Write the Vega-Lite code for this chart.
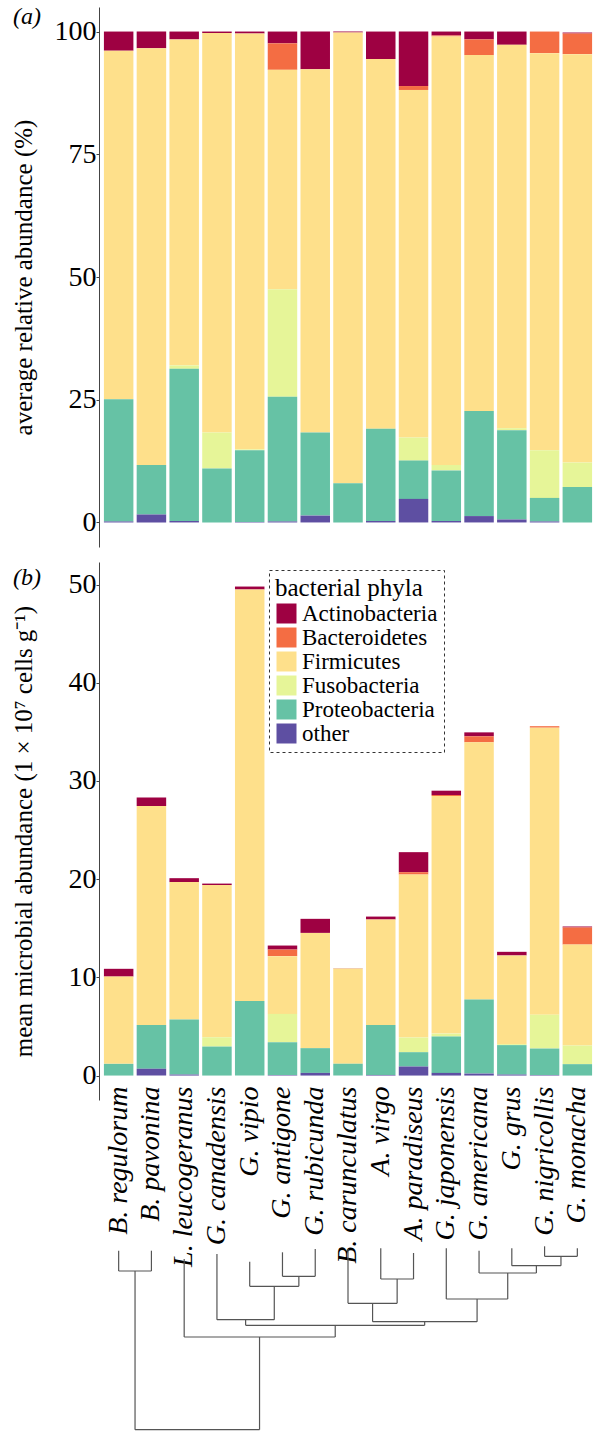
{
  "$schema": "https://vega.github.io/schema/vega-lite/v6.json",
  "padding": {"left": 11, "top": 5, "right": 0, "bottom": 0},
  "config": {
    "view": {"stroke": null},
    "font": "Liberation Serif",
    "style": {"guide-label": {"font": "Liberation Serif", "fill": "#000"}, "guide-title": {"font": "Liberation Serif", "fill": "#000"}},
    "axis": {"grid": false, "domainColor": "#444", "tickColor": "#444", "tickSize": 3, "labelPadding": 0, "labelFontSize": 28, "labelColor": "#000", "titleFontSize": 25, "titleFontWeight": "normal", "titleColor": "#000", "labelFont": "Liberation Serif", "titleFont": "Liberation Serif"},
    "axisY": {"minExtent": 48, "maxExtent": 48, "titlePadding": 15},
    "legend": {"strokeDash": [3, 3], "strokeWidth": 1, "labelFont": "Liberation Serif", "titleFont": "Liberation Serif"},
    "title": {"font": "Liberation Serif", "fontSize": 24, "fontStyle": "italic", "fontWeight": "normal", "color": "#000"}
  },
  "datasets": {
    "bars": [
      {"species": "B. regulorum", "phylum": "Actinobacteria", "pct": 3.9, "abund": 0.79},
      {"species": "B. regulorum", "phylum": "Firmicutes", "pct": 71.0, "abund": 8.89},
      {"species": "B. regulorum", "phylum": "Proteobacteria", "pct": 24.9, "abund": 1.19},
      {"species": "B. regulorum", "phylum": "other", "pct": 0.2, "abund": 0},
      {"species": "B. pavonina", "phylum": "Actinobacteria", "pct": 3.4, "abund": 0.85},
      {"species": "B. pavonina", "phylum": "Firmicutes", "pct": 84.9, "abund": 22.3},
      {"species": "B. pavonina", "phylum": "Proteobacteria", "pct": 10.1, "abund": 4.48},
      {"species": "B. pavonina", "phylum": "other", "pct": 1.6, "abund": 0.68},
      {"species": "L. leucogeranus", "phylum": "Actinobacteria", "pct": 1.6, "abund": 0.4},
      {"species": "L. leucogeranus", "phylum": "Firmicutes", "pct": 66.4, "abund": 14.0},
      {"species": "L. leucogeranus", "phylum": "Fusobacteria", "pct": 0.7, "abund": 0},
      {"species": "L. leucogeranus", "phylum": "Proteobacteria", "pct": 31.0, "abund": 5.6},
      {"species": "L. leucogeranus", "phylum": "other", "pct": 0.3, "abund": 0.1},
      {"species": "G. canadensis", "phylum": "Actinobacteria", "pct": 0.3, "abund": 0.15},
      {"species": "G. canadensis", "phylum": "Firmicutes", "pct": 81.4, "abund": 15.5},
      {"species": "G. canadensis", "phylum": "Fusobacteria", "pct": 7.3, "abund": 0.95},
      {"species": "G. canadensis", "phylum": "Proteobacteria", "pct": 11.0, "abund": 2.95},
      {"species": "G. vipio", "phylum": "Actinobacteria", "pct": 0.4, "abund": 0.3},
      {"species": "G. vipio", "phylum": "Firmicutes", "pct": 84.7, "abund": 41.9},
      {"species": "G. vipio", "phylum": "Fusobacteria", "pct": 0.2, "abund": 0},
      {"species": "G. vipio", "phylum": "Proteobacteria", "pct": 14.6, "abund": 7.6},
      {"species": "G. vipio", "phylum": "other", "pct": 0.1, "abund": 0},
      {"species": "G. antigone", "phylum": "Actinobacteria", "pct": 2.4, "abund": 0.41},
      {"species": "G. antigone", "phylum": "Bacteroidetes", "pct": 5.4, "abund": 0.67},
      {"species": "G. antigone", "phylum": "Firmicutes", "pct": 44.7, "abund": 5.88},
      {"species": "G. antigone", "phylum": "Fusobacteria", "pct": 21.9, "abund": 2.88},
      {"species": "G. antigone", "phylum": "Proteobacteria", "pct": 25.4, "abund": 3.35},
      {"species": "G. antigone", "phylum": "other", "pct": 0.2, "abund": 0.05},
      {"species": "G. rubicunda", "phylum": "Actinobacteria", "pct": 7.7, "abund": 1.43},
      {"species": "G. rubicunda", "phylum": "Firmicutes", "pct": 74.0, "abund": 11.74},
      {"species": "G. rubicunda", "phylum": "Proteobacteria", "pct": 16.9, "abund": 2.52},
      {"species": "G. rubicunda", "phylum": "other", "pct": 1.4, "abund": 0.27},
      {"species": "B. carunculatus", "phylum": "Actinobacteria", "pct": 0.2, "abund": 0.05},
      {"species": "B. carunculatus", "phylum": "Firmicutes", "pct": 91.8, "abund": 9.7},
      {"species": "B. carunculatus", "phylum": "Proteobacteria", "pct": 8.0, "abund": 1.19},
      {"species": "A. virgo", "phylum": "Actinobacteria", "pct": 5.6, "abund": 0.3},
      {"species": "A. virgo", "phylum": "Firmicutes", "pct": 75.3, "abund": 10.73},
      {"species": "A. virgo", "phylum": "Proteobacteria", "pct": 18.8, "abund": 5.1},
      {"species": "A. virgo", "phylum": "other", "pct": 0.3, "abund": 0.06},
      {"species": "A. paradiseus", "phylum": "Actinobacteria", "pct": 11.1, "abund": 2.04},
      {"species": "A. paradiseus", "phylum": "Bacteroidetes", "pct": 0.8, "abund": 0.24},
      {"species": "A. paradiseus", "phylum": "Firmicutes", "pct": 70.8, "abund": 16.6},
      {"species": "A. paradiseus", "phylum": "Fusobacteria", "pct": 4.7, "abund": 1.49},
      {"species": "A. paradiseus", "phylum": "Proteobacteria", "pct": 7.8, "abund": 1.46},
      {"species": "A. paradiseus", "phylum": "other", "pct": 4.8, "abund": 0.92},
      {"species": "G. japonensis", "phylum": "Actinobacteria", "pct": 0.8, "abund": 0.44},
      {"species": "G. japonensis", "phylum": "Bacteroidetes", "pct": 0.2, "abund": 0.1},
      {"species": "G. japonensis", "phylum": "Firmicutes", "pct": 87.3, "abund": 24.2},
      {"species": "G. japonensis", "phylum": "Fusobacteria", "pct": 1.1, "abund": 0.3},
      {"species": "G. japonensis", "phylum": "Proteobacteria", "pct": 10.3, "abund": 3.7},
      {"species": "G. japonensis", "phylum": "other", "pct": 0.3, "abund": 0.27},
      {"species": "G. americana", "phylum": "Actinobacteria", "pct": 1.6, "abund": 0.4},
      {"species": "G. americana", "phylum": "Bacteroidetes", "pct": 3.2, "abund": 0.61},
      {"species": "G. americana", "phylum": "Firmicutes", "pct": 72.5, "abund": 26.2},
      {"species": "G. americana", "phylum": "Proteobacteria", "pct": 21.4, "abund": 7.54},
      {"species": "G. americana", "phylum": "other", "pct": 1.3, "abund": 0.2},
      {"species": "G. grus", "phylum": "Actinobacteria", "pct": 2.7, "abund": 0.37},
      {"species": "G. grus", "phylum": "Firmicutes", "pct": 78.1, "abund": 9.03},
      {"species": "G. grus", "phylum": "Fusobacteria", "pct": 0.4, "abund": 0.1},
      {"species": "G. grus", "phylum": "Proteobacteria", "pct": 18.2, "abund": 3.0},
      {"species": "G. grus", "phylum": "other", "pct": 0.6, "abund": 0.1},
      {"species": "G. nigricollis", "phylum": "Bacteroidetes", "pct": 4.4, "abund": 0.15},
      {"species": "G. nigricollis", "phylum": "Firmicutes", "pct": 80.9, "abund": 29.25},
      {"species": "G. nigricollis", "phylum": "Fusobacteria", "pct": 9.7, "abund": 3.43},
      {"species": "G. nigricollis", "phylum": "Proteobacteria", "pct": 4.8, "abund": 2.7},
      {"species": "G. nigricollis", "phylum": "other", "pct": 0.2, "abund": 0.05},
      {"species": "G. monacha", "phylum": "Actinobacteria", "pct": 0.2, "abund": 0.1},
      {"species": "G. monacha", "phylum": "Bacteroidetes", "pct": 4.2, "abund": 1.74},
      {"species": "G. monacha", "phylum": "Firmicutes", "pct": 83.2, "abund": 10.28},
      {"species": "G. monacha", "phylum": "Fusobacteria", "pct": 5.0, "abund": 1.9},
      {"species": "G. monacha", "phylum": "Proteobacteria", "pct": 7.2, "abund": 1.16}
    ],
    "dendro": [
      {"x": 1, "x2": 1, "h": 4.7, "h2": 25},
      {"x": 2, "x2": 2, "h": 4.7, "h2": 25},
      {"x": 1, "x2": 2, "h": 25, "h2": 25},
      {"x": 3, "x2": 3, "h": 13, "h2": 91},
      {"x": 4, "x2": 4, "h": 8, "h2": 73.7},
      {"x": 5, "x2": 5, "h": 15.7, "h2": 40.3},
      {"x": 6, "x2": 6, "h": 6.3, "h2": 30.3},
      {"x": 7, "x2": 7, "h": 3, "h2": 30.3},
      {"x": 6, "x2": 7, "h": 30.3, "h2": 30.3},
      {"x": 6.5, "x2": 6.5, "h": 30.3, "h2": 40.3},
      {"x": 5, "x2": 6.5, "h": 40.3, "h2": 40.3},
      {"x": 5.75, "x2": 5.75, "h": 40.3, "h2": 73.7},
      {"x": 4, "x2": 5.75, "h": 73.7, "h2": 73.7},
      {"x": 4.875, "x2": 4.875, "h": 73.7, "h2": 79.3},
      {"x": 8, "x2": 8, "h": 3, "h2": 57.3},
      {"x": 9, "x2": 9, "h": 2.3, "h2": 33},
      {"x": 10, "x2": 10, "h": 7, "h2": 33},
      {"x": 9, "x2": 10, "h": 33, "h2": 33},
      {"x": 9.5, "x2": 9.5, "h": 33, "h2": 57.3},
      {"x": 8, "x2": 9.5, "h": 57.3, "h2": 57.3},
      {"x": 8.75, "x2": 8.75, "h": 57.3, "h2": 75.7},
      {"x": 11, "x2": 11, "h": 2.3, "h2": 53},
      {"x": 12, "x2": 12, "h": 4.7, "h2": 27},
      {"x": 13, "x2": 13, "h": 2.3, "h2": 19.7},
      {"x": 14, "x2": 14, "h": 0.3, "h2": 10.3},
      {"x": 15, "x2": 15, "h": 2.3, "h2": 10.3},
      {"x": 14, "x2": 15, "h": 10.3, "h2": 10.3},
      {"x": 14.5, "x2": 14.5, "h": 10.3, "h2": 19.7},
      {"x": 13, "x2": 14.5, "h": 19.7, "h2": 19.7},
      {"x": 13.75, "x2": 13.75, "h": 19.7, "h2": 27},
      {"x": 12, "x2": 13.75, "h": 27, "h2": 27},
      {"x": 12.875, "x2": 12.875, "h": 27, "h2": 53},
      {"x": 11, "x2": 12.875, "h": 53, "h2": 53},
      {"x": 11.94, "x2": 11.94, "h": 53, "h2": 75.7},
      {"x": 8.75, "x2": 11.94, "h": 75.7, "h2": 75.7},
      {"x": 10.34, "x2": 10.34, "h": 75.7, "h2": 79.3},
      {"x": 4.875, "x2": 10.34, "h": 79.3, "h2": 79.3},
      {"x": 7.61, "x2": 7.61, "h": 79.3, "h2": 91},
      {"x": 3, "x2": 7.61, "h": 91, "h2": 91},
      {"x": 5.3, "x2": 5.3, "h": 91, "h2": 183.7},
      {"x": 1.5, "x2": 1.5, "h": 25, "h2": 183.7},
      {"x": 1.5, "x2": 5.3, "h": 183.7, "h2": 183.7}
    ]
  },
  "bounds": "flush",
  "spacing": 15,
  "resolve": {"scale": {"color": "independent"}, "legend": {"color": "independent"}},
  "vconcat": [
    {
      "width": 498,
      "height": 540,
      "title": {"text": "(a)", "anchor": "start", "frame": "bounds", "offset": -22, "dx": 2},
      "data": {"name": "bars"},
      "mark": {"type": "bar"},
      "encoding": {
        "x": {"field": "species", "type": "nominal", "sort": ["B. regulorum", "B. pavonina", "L. leucogeranus", "G. canadensis", "G. vipio", "G. antigone", "G. rubicunda", "B. carunculatus", "A. virgo", "A. paradiseus", "G. japonensis", "G. americana", "G. grus", "G. nigricollis", "G. monacha"], "scale": {"paddingInner": 0.1, "paddingOuter": 0.15}, "axis": null},
        "y": {"field": "pct", "type": "quantitative", "stack": "zero", "scale": {"domain": [-5, 105], "nice": false, "zero": false}, "axis": {"values": [0, 25, 50, 75, 100], "title": "average relative abundance (%)", "labelFont": "Liberation Serif", "labelFontSize": 28, "titleFont": "Liberation Serif", "titleFontSize": 25}},
        "color": {"field": "phylum", "type": "nominal", "scale": {"domain": ["Actinobacteria", "Bacteroidetes", "Firmicutes", "Fusobacteria", "Proteobacteria", "other"], "range": ["#9E0142", "#F46D43", "#FEE08B", "#E6F598", "#66C2A5", "#5E4FA2"]}, "legend": null},
        "order": {"field": "phylum", "sort": "descending"}
      }
    },
    {
      "bounds": "flush",
      "spacing": 146,
      "resolve": {"scale": {"color": "independent"}, "legend": {"color": "independent"}},
      "vconcat": [
        {
          "width": 498,
          "height": 538,
          "title": {"text": "(b)", "anchor": "start", "frame": "bounds", "offset": -28, "dx": 2},
          "data": {"name": "bars"},
          "mark": {"type": "bar"},
          "encoding": {
            "x": {"field": "species", "type": "nominal", "sort": ["B. regulorum", "B. pavonina", "L. leucogeranus", "G. canadensis", "G. vipio", "G. antigone", "G. rubicunda", "B. carunculatus", "A. virgo", "A. paradiseus", "G. japonensis", "G. americana", "G. grus", "G. nigricollis", "G. monacha"], "scale": {"paddingInner": 0.1, "paddingOuter": 0.15}, "axis": {"title": null, "domain": false, "ticks": false, "tickSize": 0, "labelAngle": -90, "labelAlign": "right", "labelBaseline": "middle", "labelFont": "Liberation Serif", "labelFontStyle": "italic", "labelFontSize": 28, "labelPadding": -14, "labelLimit": 400}},
            "y": {"field": "abund", "type": "quantitative", "stack": "zero", "scale": {"domain": [-2.49, 52.3], "nice": false, "zero": false}, "axis": {"values": [0, 10, 20, 30, 40, 50], "title": "mean microbial abundance (1 × 10⁷ cells g⁻¹)", "labelFont": "Liberation Serif", "labelFontSize": 28, "titleFont": "Liberation Serif", "titleFontSize": 25}},
            "color": {"field": "phylum", "type": "nominal", "scale": {"domain": ["Actinobacteria", "Bacteroidetes", "Firmicutes", "Fusobacteria", "Proteobacteria", "other"], "range": ["#9E0142", "#F46D43", "#FEE08B", "#E6F598", "#66C2A5", "#5E4FA2"]}, "legend": {"title": "bacterial phyla", "orient": "none", "legendX": 170, "legendY": 8, "symbolType": "square", "symbolSize": 400, "symbolStrokeWidth": 0, "symbolOpacity": 1, "labelFont": "Liberation Serif", "titleFont": "Liberation Serif", "labelFontSize": 23, "titleFontSize": 25, "titleFontWeight": "normal", "titleColor": "#000", "labelColor": "#000", "rowPadding": 0, "padding": 6, "labelOffset": 4, "titlePadding": 1, "strokeColor": "#333"}},
            "order": {"field": "phylum", "sort": "descending"}
          }
        },
        {
          "width": 498,
          "height": 185,
          "data": {"name": "dendro"},
          "mark": {"type": "rule", "color": "#555", "strokeWidth": 1.2},
          "encoding": {
            "x": {"field": "x", "type": "quantitative", "scale": {"domain": [0.4, 15.6], "nice": false, "zero": false}, "axis": null},
            "x2": {"field": "x2"},
            "y": {"field": "h", "type": "quantitative", "scale": {"domain": [0, 185], "nice": false, "reverse": true}, "axis": null},
            "y2": {"field": "h2"}
          }
        }
      ]
    }
  ]
}
